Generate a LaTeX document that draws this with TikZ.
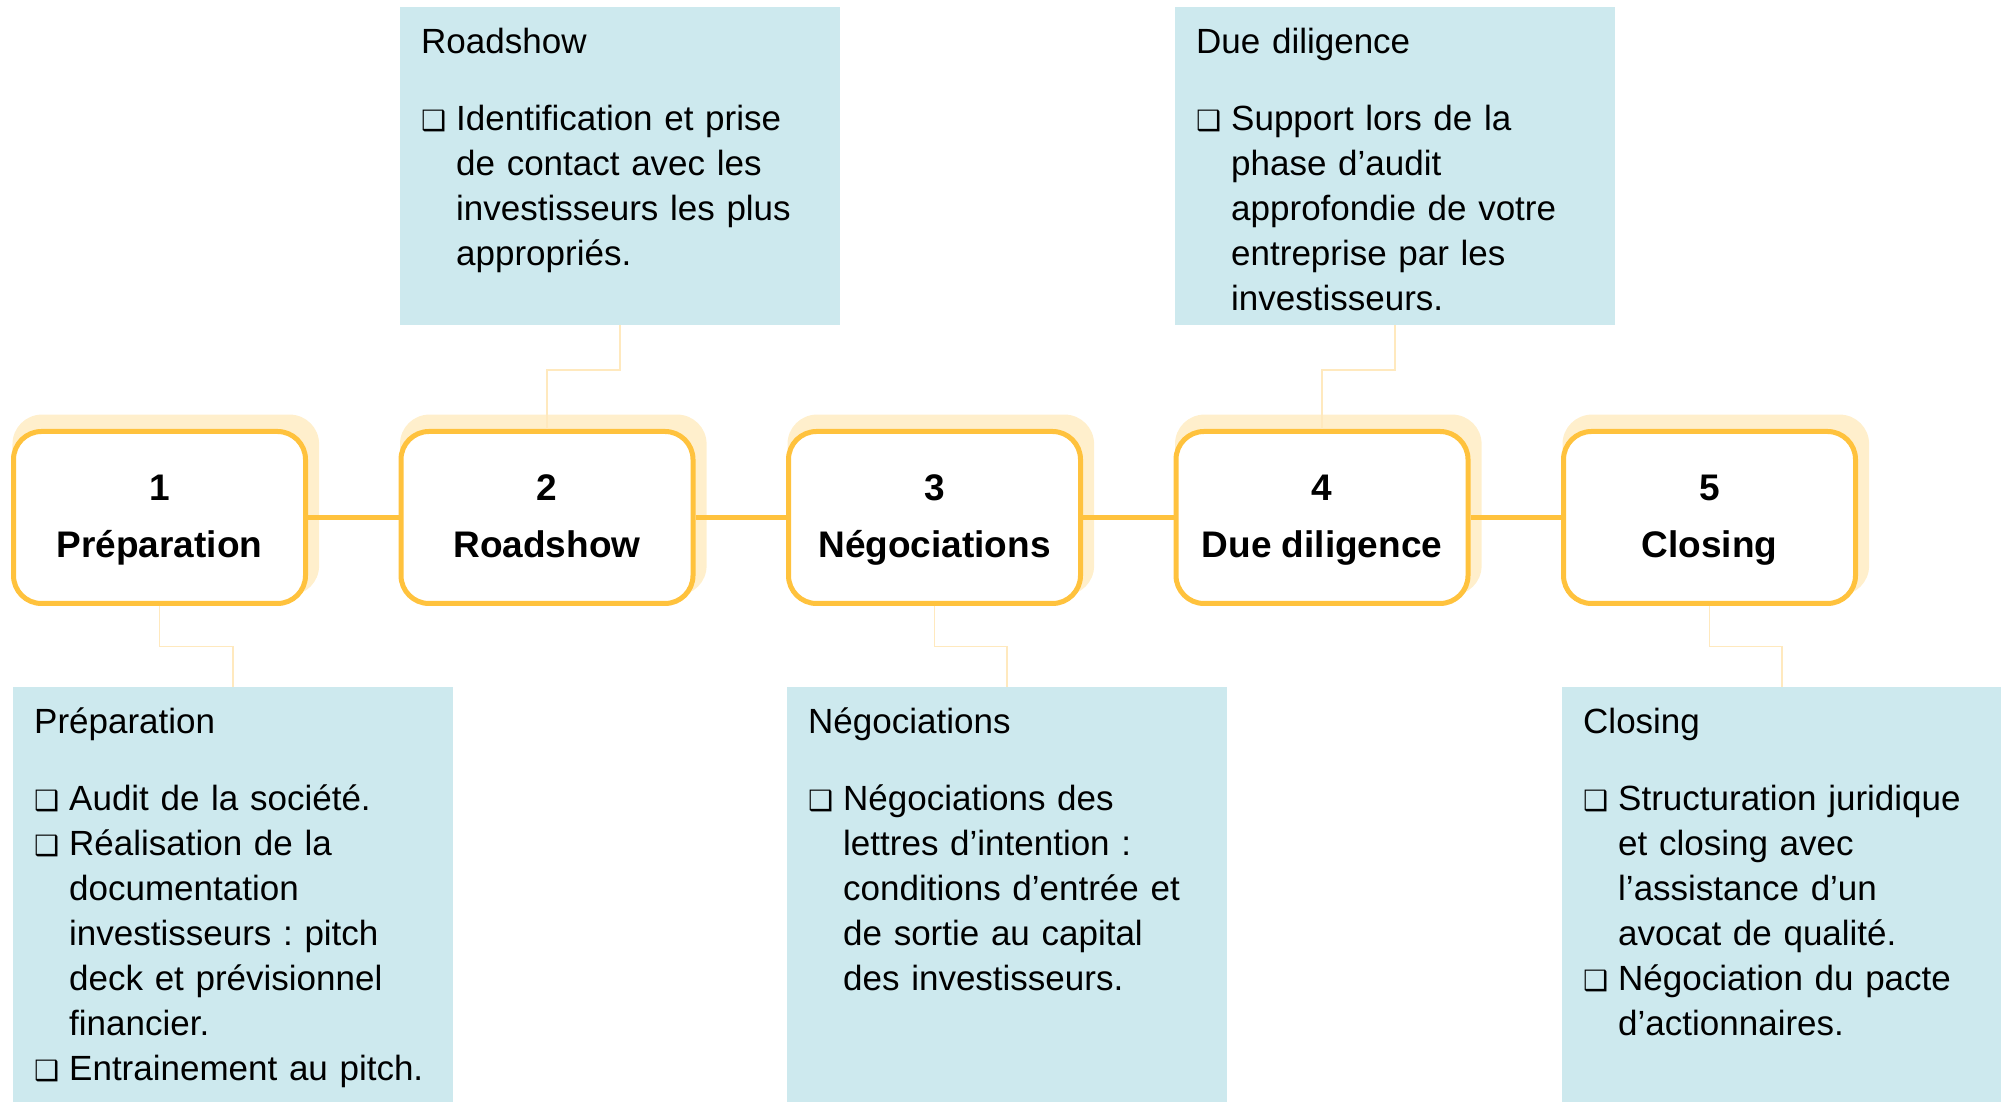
\documentclass[tikz,border=0pt]{standalone}
\usepackage{fontspec}
\setmainfont{Liberation Sans}
\newfontfamily\symf{DejaVu Sans}
\usepackage{tikz}
\usetikzlibrary{positioning,calc,shadows}
\frenchspacing

\definecolor{gold}{HTML}{FFC23D}
\definecolor{cream}{HTML}{FFEFCC}
\definecolor{leadc}{HTML}{FFE9BE}
\definecolor{aqua}{HTML}{CDE9EE}

\newcommand{\sqbul}{\makebox[35pt][l]{{\symf\fontsize{28}{28}\selectfont ❑}}}
\newcommand{\indt}{\hspace*{35pt}}

\begin{document}
\begin{tikzpicture}[x=1pt, y=1pt, node distance=387.5pt]
\tikzstyle{stage}=[rounded corners=28pt, draw=gold, line width=5pt, fill=white,
  minimum width=292pt, minimum height=172pt, align=center,
  font=\bfseries\fontsize{37}{57}\selectfont,
  general shadow={fill=cream, shadow xshift=6pt, shadow yshift=12pt,
    shadow scale=1.05}]
\tikzstyle{callout}=[fill=aqua, minimum width=440pt, anchor=north west, inner sep=0pt]
\tikzstyle{calltext}=[anchor=north west, inner sep=0pt, text width=398pt, align=left,
  font=\fontsize{35}{45}\selectfont]
\tikzstyle{link}=[draw=gold, line width=5pt]
\tikzstyle{elbow}=[draw=leadc, line width=1.5pt]

\useasboundingbox (0,0) rectangle (2001,1102);

% the five stages
\node[stage] (1) at (159.5,584.5) {\strut 1\\\strut Préparation};
\node[stage] (2) [right of=1] {\strut 2\\\strut Roadshow};
\node[stage] (3) [right of=2] {\strut 3\\\strut Négociations};
\node[stage] (4) [right of=3] {\strut 4\\\strut Due diligence};
\node[stage] (5) [right of=4] {\strut 5\\\strut Closing};

\draw[link] (1) -- (2);
\draw[link] (2) -- (3);
\draw[link] (3) -- (4);
\draw[link] (4) -- (5);

% detail boxes
\node[callout, minimum height=415pt] (c1) at (13,415) {};
\node[callout, minimum height=318pt] (c2) at (400,1095) {};
\node[callout, minimum height=415pt] (c3) at (787,415) {};
\node[callout, minimum height=318pt] (c4) at (1175,1095) {};
\node[callout, minimum height=415pt] (c5) at (1562,415) {};

\node[calltext] (t1) at ($(c1.north west)+(21,-14.5)$) {\strut Préparation\\[32pt]
\sqbul Audit de la société.\\
\sqbul Réalisation de la\\
\indt documentation\\
\indt investisseurs : pitch\\
\indt deck et prévisionnel\\
\indt financier.\\
\sqbul Entrainement au pitch.};

\node[calltext] (t2) at ($(c2.north west)+(21,-14.5)$) {\strut Roadshow\\[32pt]
\sqbul Identification et prise\\
\indt de contact avec les\\
\indt investisseurs les plus\\
\indt appropriés.};

\node[calltext] (t3) at ($(c3.north west)+(21,-14.5)$) {\strut Négociations\\[32pt]
\sqbul Négociations des\\
\indt lettres d’intention :\\
\indt conditions d’entrée et\\
\indt de sortie au capital\\
\indt des investisseurs.};

\node[calltext] (t4) at ($(c4.north west)+(21,-14.5)$) {\strut Due diligence\\[32pt]
\sqbul Support lors de la\\
\indt phase d’audit\\
\indt approfondie de votre\\
\indt entreprise par les\\
\indt investisseurs.};

\node[calltext] (t5) at ($(c5.north west)+(21,-14.5)$) {\strut Closing\\[32pt]
\sqbul Structuration juridique\\
\indt et closing avec\\
\indt l’assistance d’un\\
\indt avocat de qualité.\\
\sqbul Négociation du pacte\\
\indt d’actionnaires.};

% leader lines
\draw[elbow] (1.south) |- ($(1.south)!.5!(c1.north)$) -| (c1.north);
\draw[elbow] (c2.south) |- ($(c2.south)!.43!(2.north)$) -| (2.north);
\draw[elbow] (3.south) |- ($(3.south)!.5!(c3.north)$) -| (c3.north);
\draw[elbow] (c4.south) |- ($(c4.south)!.43!(4.north)$) -| (4.north);
\draw[elbow] (5.south) |- ($(5.south)!.5!(c5.north)$) -| (c5.north);

\end{tikzpicture}
\end{document}
